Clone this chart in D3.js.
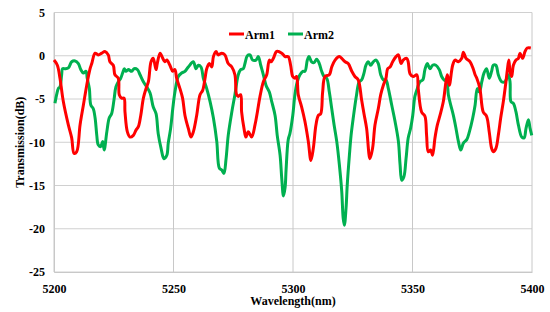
<!DOCTYPE html>
<html>
<head>
<meta charset="utf-8">
<script src="https://cdn.jsdelivr.net/npm/d3@7"></script>
<style>
    body { margin: 0; background: #fff; }
    text { font-family: "Liberation Serif", "Times New Roman", serif; font-weight: bold; fill: #000; }
</style>
</head>
<body>
<div id="chart"></div>
<script>
// tick values
const xTicks = [5200, 5250, 5300, 5350, 5400];
const yTicks = [5, 0, -5, -10, -15, -20, -25];

// series names
const seriesNames = ["Arm1", "Arm2"];

// Arm1 (red) - wavelength (nm) / transmission (dB)
const arm1Wl = [5200.0, 5201.4, 5202.5, 5203.9, 5206.0, 5207.4, 5208.4, 5209.5, 5210.9, 5212.3, 5213.7, 5215.1, 5215.8, 5217.2, 5218.5, 5220.0, 5221.3, 5222.7, 5223.4, 5224.8, 5225.5, 5226.9, 5227.3, 5228.3, 5229.3, 5229.7, 5230.7, 5231.8, 5233.2, 5234.3, 5235.3, 5236.3, 5237.4, 5238.5, 5239.5, 5240.6, 5241.5, 5242.7, 5243.2, 5244.4, 5245.5, 5246.4, 5247.2, 5248.5, 5249.7, 5250.6, 5251.3, 5252.7, 5253.8, 5254.8, 5256.2, 5257.3, 5258.3, 5259.7, 5261.1, 5262.2, 5263.2, 5263.9, 5265.0, 5266.0, 5266.7, 5267.8, 5268.7, 5270.2, 5271.5, 5272.9, 5274.4, 5275.7, 5276.4, 5277.1, 5278.1, 5278.5, 5279.5, 5280.3, 5281.3, 5282.7, 5284.1, 5285.1, 5286.2, 5287.6, 5289.0, 5290.1, 5290.8, 5291.8, 5293.2, 5295.3, 5296.7, 5298.0, 5299.0, 5299.9, 5300.8, 5301.5, 5302.2, 5303.6, 5305.0, 5306.4, 5307.5, 5308.5, 5309.6, 5310.6, 5311.6, 5312.4, 5313.4, 5315.2, 5316.2, 5317.6, 5319.4, 5320.4, 5321.8, 5323.1, 5324.6, 5325.9, 5327.3, 5328.7, 5329.7, 5330.8, 5332.2, 5333.3, 5334.3, 5335.7, 5336.7, 5337.8, 5338.9, 5339.6, 5340.6, 5341.7, 5343.1, 5344.1, 5345.2, 5346.1, 5347.6, 5348.2, 5349.0, 5350.3, 5351.8, 5352.4, 5353.8, 5355.2, 5355.9, 5356.6, 5357.6, 5358.4, 5359.4, 5360.4, 5361.5, 5362.9, 5364.0, 5364.6, 5365.4, 5366.8, 5367.8, 5369.2, 5370.6, 5371.3, 5372.4, 5374.1, 5375.4, 5376.2, 5376.9, 5378.2, 5379.6, 5381.0, 5382.1, 5383.1, 5383.8, 5384.9, 5385.9, 5386.9, 5388.0, 5389.1, 5389.7, 5390.3, 5390.8, 5391.5, 5392.2, 5393.3, 5394.3, 5395.0, 5396.1, 5397.1, 5398.0, 5399.5];
const arm1Db = [-0.5, -1.1, -2.6, -5.3, -8.0, -9.5, -11.3, -11.1, -8.0, -5.7, -3.4, -1.5, -0.9, 0.3, 0.1, 0.3, 0.5, 0.1, -0.7, -1.1, -2.2, -2.6, -4.5, -4.9, -4.9, -6.5, -8.8, -9.4, -9.2, -8.6, -8.2, -6.9, -4.9, -3.8, -3.0, -0.7, -0.3, -1.6, -0.9, 0.3, -0.3, -0.7, -0.5, -1.1, -1.8, -1.6, -2.6, -3.8, -4.9, -6.9, -8.4, -9.4, -8.8, -6.9, -4.5, -4.0, -2.6, -1.5, -0.9, -1.3, -0.1, 0.5, 0.1, 0.3, 0.1, -0.9, -1.3, -2.2, -4.5, -4.7, -4.5, -6.5, -8.4, -9.4, -8.8, -9.4, -8.0, -6.5, -4.7, -3.0, -2.2, -0.5, -0.7, -0.3, 0.5, 0.3, -0.1, -0.1, -1.1, -2.4, -2.6, -2.4, -4.5, -5.9, -7.6, -9.9, -12.1, -10.7, -8.0, -6.9, -6.7, -4.2, -2.4, -2.2, -1.3, -0.5, -0.1, -0.3, -0.7, -0.9, -1.8, -2.4, -2.8, -5.1, -6.7, -8.4, -11.9, -10.7, -8.0, -6.1, -4.5, -3.4, -2.6, -1.5, -1.3, -0.7, -0.1, 0.1, -0.9, -0.5, -0.3, -0.7, -2.1, -2.4, -2.2, -3.8, -6.5, -7.0, -9.2, -11.1, -10.9, -11.5, -9.5, -8.0, -6.9, -5.3, -3.0, -2.2, -3.4, -1.1, -0.5, -0.7, -0.3, 0.4, -0.3, -0.7, -1.5, -2.2, -2.6, -3.8, -6.5, -7.0, -8.8, -10.7, -11.1, -10.7, -9.2, -7.2, -5.3, -3.0, -1.6, -0.5, -1.8, -2.4, -1.1, -0.5, -0.3, 0.3, -0.3, 0.5, 0.9, 0.9];

// Arm2 (green) - wavelength (nm) / transmission (dB)
const arm2Wl = [5200.4, 5201.1, 5201.8, 5202.5, 5203.2, 5203.6, 5204.6, 5206.0, 5207.4, 5208.8, 5210.2, 5211.2, 5212.3, 5213.4, 5213.9, 5214.8, 5215.4, 5216.4, 5217.2, 5217.9, 5218.5, 5219.5, 5220.4, 5221.0, 5222.1, 5223.1, 5224.1, 5225.1, 5225.9, 5226.9, 5227.9, 5228.7, 5229.4, 5230.1, 5231.1, 5232.5, 5233.5, 5234.9, 5236.0, 5237.4, 5238.8, 5240.2, 5241.5, 5242.7, 5243.6, 5244.8, 5246.0, 5247.2, 5247.8, 5248.8, 5249.7, 5250.6, 5252.0, 5253.4, 5254.8, 5256.2, 5258.3, 5259.4, 5260.4, 5261.5, 5262.5, 5263.9, 5265.3, 5266.7, 5268.1, 5269.2, 5270.2, 5271.1, 5272.0, 5272.9, 5274.4, 5275.7, 5277.1, 5278.1, 5279.2, 5279.9, 5280.9, 5282.0, 5283.1, 5284.5, 5285.5, 5286.5, 5287.6, 5288.7, 5290.1, 5291.1, 5292.5, 5293.4, 5294.6, 5295.3, 5296.0, 5296.7, 5297.1, 5298.0, 5298.7, 5299.9, 5300.8, 5301.8, 5302.9, 5304.1, 5305.0, 5306.0, 5306.7, 5307.8, 5308.8, 5309.9, 5311.0, 5312.0, 5313.0, 5314.1, 5315.2, 5316.2, 5317.2, 5318.3, 5319.4, 5320.4, 5321.0, 5321.5, 5322.2, 5322.7, 5323.6, 5324.3, 5325.2, 5326.6, 5327.7, 5328.7, 5329.7, 5330.5, 5331.5, 5332.5, 5333.6, 5334.7, 5335.7, 5336.7, 5337.8, 5338.9, 5339.9, 5341.3, 5342.7, 5344.1, 5344.8, 5345.5, 5346.4, 5347.3, 5348.2, 5349.2, 5350.1, 5351.0, 5352.0, 5353.1, 5354.3, 5355.2, 5356.2, 5357.3, 5358.4, 5359.8, 5361.2, 5362.2, 5363.2, 5364.3, 5365.0, 5366.0, 5367.1, 5368.2, 5369.2, 5370.2, 5371.3, 5372.7, 5373.8, 5375.2, 5376.2, 5377.1, 5378.0, 5379.0, 5379.9, 5381.0, 5382.1, 5383.1, 5383.8, 5384.9, 5385.9, 5387.3, 5388.7, 5390.1, 5390.8, 5391.2, 5392.2, 5393.3, 5394.3, 5395.7, 5396.7, 5397.5, 5398.5, 5399.2, 5399.9];
const arm2Db = [-5.5, -4.5, -3.8, -3.6, -2.2, -1.5, -1.5, -1.4, -0.7, -0.6, -0.9, -1.6, -2.0, -1.8, -2.6, -3.8, -5.7, -6.1, -7.2, -9.2, -10.3, -10.5, -9.9, -10.9, -8.8, -7.2, -6.7, -5.1, -3.6, -3.0, -2.6, -2.0, -1.5, -1.8, -1.6, -1.8, -1.5, -1.6, -2.2, -3.0, -3.6, -4.3, -5.9, -6.7, -9.0, -10.7, -11.9, -11.5, -10.1, -8.4, -6.1, -4.2, -2.4, -2.0, -1.8, -1.3, -0.7, -1.5, -1.1, -1.3, -2.6, -3.8, -5.3, -7.2, -9.9, -13.0, -13.2, -13.6, -11.9, -9.2, -6.5, -4.5, -2.2, -1.6, -1.5, -0.9, 0.0, 0.1, -0.5, -0.5, -0.1, -1.1, -2.2, -3.4, -4.2, -5.3, -6.9, -9.2, -11.5, -14.2, -16.2, -15.2, -13.2, -9.7, -9.0, -6.9, -4.5, -3.0, -2.2, -1.8, -1.8, -0.5, -0.1, -0.7, -0.8, -0.4, -0.9, -1.8, -2.4, -2.6, -4.2, -6.1, -8.0, -9.9, -12.6, -15.7, -18.8, -19.6, -17.6, -14.9, -11.5, -9.2, -7.2, -4.5, -3.0, -2.8, -2.0, -1.1, -0.7, -1.1, -0.7, -0.5, -0.9, -2.2, -2.8, -2.8, -3.8, -5.7, -7.6, -9.9, -12.6, -14.4, -14.0, -11.9, -9.5, -8.4, -6.9, -4.7, -3.8, -3.0, -2.8, -1.6, -0.9, -1.5, -1.1, -1.1, -1.6, -2.4, -2.8, -3.0, -4.5, -5.7, -6.9, -8.4, -9.9, -10.9, -10.1, -9.7, -8.8, -7.2, -5.7, -3.8, -4.2, -3.0, -2.0, -1.5, -2.6, -1.8, -1.1, -1.1, -2.2, -3.0, -3.0, -2.2, -3.0, -5.3, -5.5, -6.5, -8.0, -9.4, -9.5, -8.4, -7.4, -8.4, -9.2];

const seriesColors = ["#FF0000", "#00B050"];

const config = {
    containerWidth: 550,
    containerHeight: 312,
    margin: { top: 12.5, right: 18, bottom: 40, left: 54 }
};

const width = config.containerWidth - config.margin.left - config.margin.right;
const height = config.containerHeight - config.margin.top - config.margin.bottom;

const svg = d3.select("#chart")
    .append("svg")
    .attr("width", config.containerWidth)
    .attr("height", config.containerHeight);

const chart = svg.append("g")
    .attr("transform", `translate(${config.margin.left},${config.margin.top})`);

// scales
const xScale = d3.scaleLinear().domain([5200, 5400]).range([0, width]);
const yScale = d3.scaleLinear().domain([-25, 5]).range([height, 0]);

// horizontal gridlines
chart.append("g")
    .selectAll("line")
    .data(yTicks)
    .join("line")
    .attr("x1", 0)
    .attr("x2", width)
    .attr("y1", d => yScale(d))
    .attr("y2", d => yScale(d))
    .attr("stroke", "#D0D0D0")
    .attr("stroke-width", 1);

// vertical gridlines
chart.append("g")
    .selectAll("line")
    .data(xTicks)
    .join("line")
    .attr("x1", d => xScale(d))
    .attr("x2", d => xScale(d))
    .attr("y1", 0)
    .attr("y2", height)
    .attr("stroke", "#C8C8C8")
    .attr("stroke-width", 1);

// x axis (labels only)
const xAxis = chart.append("g")
    .attr("transform", `translate(0,${height})`)
    .call(d3.axisBottom(xScale).tickValues(xTicks).tickSize(0).tickPadding(12).tickFormat(d3.format("d")));
xAxis.select(".domain").attr("stroke", "#C8C8C8");
xAxis.selectAll("text").attr("font-size", "12px").attr("font-family", null);

// y axis (labels only)
const yAxis = chart.append("g")
    .call(d3.axisLeft(yScale).tickValues(yTicks).tickSize(0).tickPadding(9).tickFormat(d => d < 0 ? "-" + Math.abs(d) : d));
yAxis.select(".domain").attr("stroke", "#C8C8C8");
yAxis.selectAll("text").attr("font-size", "12px").attr("font-family", null);

// lines
const line = d3.line()
    .x(d => xScale(d[0]))
    .y(d => yScale(d[1]))
    .curve(d3.curveCatmullRom.alpha(0.5));

const series = [
    arm1Wl.map((w, i) => [w, arm1Db[i]]),
    arm2Wl.map((w, i) => [w, arm2Db[i]])
];

// green drawn first so red sits on top where they cross
[1, 0].forEach(i => {
    chart.append("path")
        .datum(series[i])
        .attr("fill", "none")
        .attr("stroke", seriesColors[i])
        .attr("stroke-width", 3)
        .attr("stroke-linejoin", "round")
        .attr("d", line);
});

// legend
const legend = svg.append("g")
    .attr("transform", "translate(229,34)");

legend.selectAll("g")
    .data(seriesNames)
    .join("g")
    .attr("transform", (d, i) => `translate(${i * 59},0)`)
    .each(function (d, i) {
        const g = d3.select(this);
        g.append("line")
            .attr("x1", 0).attr("x2", 15)
            .attr("stroke", seriesColors[i])
            .attr("stroke-width", 3);
        g.append("text")
            .attr("x", 16)
            .attr("y", 4.5)
            .attr("font-size", "12px")
            .text(d);
    });

// axis titles
svg.append("text")
    .attr("x", config.margin.left + width / 2)
    .attr("y", 305)
    .attr("text-anchor", "middle")
    .attr("font-size", "12px")
    .text("Wavelength(nm)");

svg.append("text")
    .attr("transform", `translate(24,${config.margin.top + height / 2}) rotate(-90)`)
    .attr("text-anchor", "middle")
    .attr("font-size", "12px")
    .text("Transmission(dB)");
</script>
</body>
</html>
